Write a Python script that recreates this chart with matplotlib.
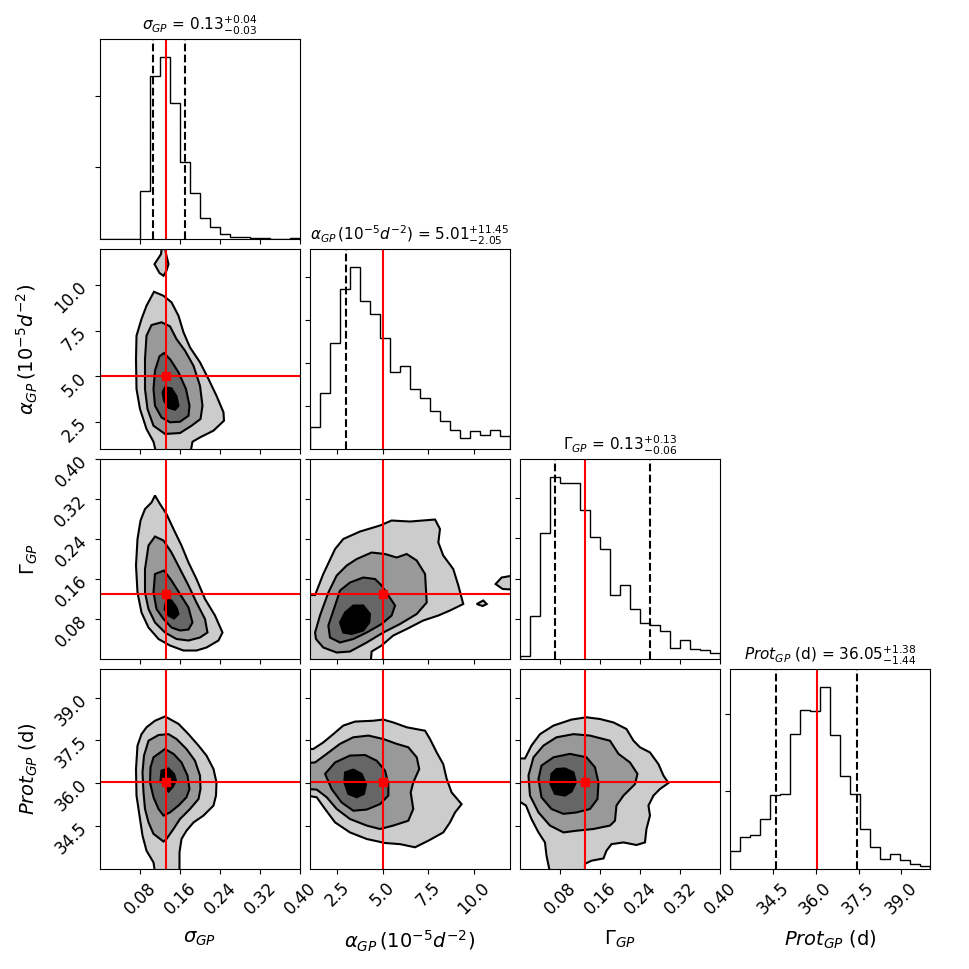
import numpy as np
import matplotlib
matplotlib.use("Agg")
import matplotlib.pyplot as plt
from matplotlib.ticker import MaxNLocator

# parameter names, axis ranges
labels = [r"$\sigma_{GP}$", r"$\alpha_{GP}\,(10^{-5}d^{-2})$", r"$\Gamma_{GP}$", r"$Prot_{GP}$ (d)"]
ranges = [(0.0, 0.40), (1.0, 12.0), (0.0, 0.40), (33.0, 40.0)]
nbins = 20

# 1D histogram counts (20 bins over each range)
sigma_counts = [0, 0, 0, 0, 1330, 4560, 5080, 3810, 2150, 1275, 577, 326, 149, 56, 56, 28, 28, 0, 0, 28]
alpha_counts = [521, 1300, 2467, 3735, 4233, 3455, 3144, 2591, 1798, 1938, 1393, 1183, 887, 646, 444, 249, 420, 327, 436, 296]
gamma_counts = [83, 1070, 3125, 4520, 4370, 4370, 3705, 3042, 2727, 1592, 1840, 1235, 904, 846, 688, 265, 464, 240, 224, 158]
prot_counts = [474, 828, 871, 1284, 1905, 1931, 3491, 4103, 4086, 4689, 3457, 2396, 1931, 1026, 560, 259, 388, 224, 129, 69]
hist_counts = [sigma_counts, alpha_counts, gamma_counts, prot_counts]

# quantiles (16, 50, 84 %) -- the medians are also used as the "truth" lines
q16 = [0.106, 2.96, 0.07, 34.61]
q50 = [0.133, 5.01, 0.13, 36.05]
q84 = [0.171, 16.46, 0.26, 37.43]

# 2D contour outlines (x, y), from outermost level to innermost
alpha_vs_sigma = [
    [[(.108, 9.65), (.127, 9.43), (.143, 9.07), (.157, 8.33), (.167, 7.42), (.180, 6.59), (.200, 5.77),
      (.217, 4.85), (.233, 3.93), (.247, 3.02), (.248, 2.56), (.227, 2.01), (.200, 1.64), (.185, 1.40),
      (.181, 0.82), (.112, 0.82), (.107, 1.40), (.093, 2.10), (.080, 3.20), (.073, 4.30), (.072, 5.95),
      (.073, 7.23), (.083, 8.15), (.093, 8.88)],
     [(.109, 11.17), (.122, 11.72), (.124, 12.18), (.129, 12.18), (.133, 11.63), (.137, 11.17),
      (.133, 10.81), (.127, 10.53), (.119, 10.68)]],
    [[(.093, 7.23), (.103, 7.82), (.123, 7.97), (.140, 7.75), (.153, 7.05), (.170, 6.41), (.187, 5.58),
      (.200, 4.48), (.205, 3.38), (.201, 2.65), (.183, 2.28), (.160, 1.88), (.130, 1.83), (.107, 2.28),
      (.095, 3.20), (.090, 4.30), (.090, 5.95)]],
    [[(.119, 6.10), (.128, 6.28), (.141, 5.91), (.157, 5.22), (.172, 4.30), (.179, 3.38), (.177, 2.83),
      (.160, 2.50), (.140, 2.47), (.123, 2.74), (.110, 3.38), (.107, 4.30), (.110, 5.31)]],
    [[(.130, 4.39), (.143, 4.34), (.153, 3.90), (.157, 3.38), (.150, 3.16), (.137, 3.27), (.128, 3.66),
      (.125, 4.12)]],
]

gamma_vs_sigma = [
    [[(.110, .327), (.120, .310), (.133, .290), (.147, .260), (.163, .227), (.177, .193), (.193, .160),
      (.210, .120), (.230, .087), (.245, .053), (.237, .037), (.213, .023), (.193, .017), (.167, .017),
      (.140, .027), (.117, .040), (.097, .063), (.083, .093), (.075, .133), (.072, .187), (.075, .240),
      (.081, .277), (.090, .300), (.103, .313)]],
    [[(.110, .245), (.127, .237), (.143, .213), (.160, .180), (.177, .147), (.193, .113), (.210, .080),
      (.215, .053), (.200, .043), (.177, .037), (.153, .040), (.130, .053), (.110, .073), (.097, .100),
      (.090, .133), (.090, .180), (.097, .227)]],
    [[(.110, .170), (.128, .177), (.143, .157), (.160, .130), (.177, .103), (.185, .073), (.177, .059),
      (.160, .057), (.143, .063), (.127, .080), (.113, .100), (.107, .133)]],
    [[(.133, .120), (.143, .117), (.153, .103), (.157, .090), (.148, .081), (.137, .087), (.129, .100)]],
]

gamma_vs_alpha = [
    [[(0.82, .128), (1.28, .128), (1.73, .170), (2.38, .220), (2.83, .240), (3.75, .255), (4.85, .267),
      (5.49, .277), (6.50, .275), (7.88, .279), (8.15, .260), (8.06, .233), (8.33, .207), (8.88, .180),
      (9.16, .147), (9.43, .110), (8.70, .097), (8.06, .087), (7.23, .077), (6.32, .060), (5.58, .047),
      (4.94, .027), (4.39, .015), (4.34, -.007), (0.82, -.007)],
     [(11.21, .150), (11.54, .163), (12.18, .167), (12.18, .139), (11.60, .140)],
     [(10.17, .110), (10.53, .117), (10.72, .110), (10.50, .106)]],
    [[(1.28, .053), (1.55, .087), (2.01, .133), (2.47, .167), (3.02, .187), (3.57, .200), (4.39, .213),
      (5.13, .210), (5.77, .203), (6.32, .210), (6.87, .197), (7.33, .170), (7.42, .113), (6.87, .090),
      (5.95, .070), (5.03, .053), (4.12, .033), (3.20, .015), (2.47, .013), (1.73, .023), (1.33, .040)]],
    [[(2.01, .067), (2.38, .107), (2.65, .137), (3.20, .153), (3.93, .163), (4.58, .160), (4.94, .147),
      (5.31, .127), (5.68, .107), (5.49, .087), (4.94, .070), (4.12, .053), (3.38, .040), (2.65, .033),
      (2.10, .043)]],
    [[(2.65, .073), (2.93, .093), (3.38, .107), (3.93, .107), (4.30, .090), (4.26, .073), (3.93, .057),
      (3.29, .050), (2.83, .053)]],
]

prot_vs_sigma = [
    [[(.110, 38.19), (.130, 38.34), (.157, 38.08), (.177, 37.72), (.197, 37.32), (.213, 36.97),
      (.227, 36.50), (.233, 36.03), (.232, 35.57), (.227, 35.22), (.207, 34.87), (.187, 34.63),
      (.173, 34.34), (.163, 34.05), (.159, 33.58), (.159, 32.88), (.110, 32.88), (.107, 33.23),
      (.093, 33.64), (.085, 34.17), (.079, 34.87), (.073, 35.57), (.072, 36.50), (.075, 37.32),
      (.083, 37.72), (.093, 37.96)]],
    [[(.097, 37.49), (.117, 37.69), (.137, 37.72), (.153, 37.55), (.173, 37.20), (.190, 36.79),
      (.200, 36.27), (.201, 35.80), (.197, 35.45), (.180, 35.10), (.160, 34.75), (.147, 34.40),
      (.133, 34.05), (.127, 33.96), (.107, 34.23), (.097, 34.63), (.090, 35.10), (.087, 35.68),
      (.085, 36.38), (.088, 36.97)]],
    [[(.107, 36.91), (.130, 37.20), (.147, 37.03), (.163, 36.73), (.175, 36.27), (.179, 35.80),
      (.173, 35.51), (.157, 35.22), (.140, 34.98), (.127, 34.87), (.117, 35.10), (.107, 35.51),
      (.100, 36.03), (.101, 36.56)]],
    [[(.123, 36.44), (.137, 36.52), (.148, 36.33), (.152, 36.09), (.145, 35.86), (.137, 35.71),
      (.130, 35.92), (.121, 36.09)]],
]

prot_vs_alpha = [
    [[(0.82, 37.20), (1.18, 37.20), (1.73, 37.43), (2.28, 37.72), (2.83, 38.02), (3.48, 38.16),
      (4.48, 38.19), (5.03, 38.23), (5.58, 38.13), (6.32, 37.96), (7.33, 37.84), (7.60, 37.55),
      (7.97, 37.08), (8.33, 36.67), (8.52, 36.15), (8.79, 35.68), (9.34, 35.27), (8.98, 34.98),
      (8.70, 34.63), (8.33, 34.28), (7.51, 33.99), (6.78, 33.76), (5.95, 33.87), (5.13, 33.91),
      (4.12, 34.05), (3.20, 34.28), (2.38, 34.63), (1.83, 35.10), (1.37, 35.51), (0.82, 35.57)]],
    [[(0.82, 36.71), (1.28, 36.73), (1.92, 37.03), (2.65, 37.38), (3.38, 37.61), (4.21, 37.67),
      (5.03, 37.55), (5.77, 37.38), (6.41, 37.26), (6.87, 36.91), (7.01, 36.50), (6.68, 36.03),
      (6.54, 35.68), (6.68, 35.10), (6.41, 34.69), (5.58, 34.52), (4.85, 34.40), (4.12, 34.52),
      (3.20, 34.75), (2.47, 35.10), (1.92, 35.51), (1.37, 35.78), (0.82, 35.80)]],
    [[(1.83, 36.33), (2.38, 36.73), (3.20, 36.97), (4.03, 36.99), (4.67, 36.79), (5.13, 36.44),
      (5.31, 35.97), (5.31, 35.57), (4.85, 35.27), (4.12, 35.08), (3.38, 35.04), (2.74, 35.33),
      (2.19, 35.80)]],
    [[(2.93, 36.38), (3.38, 36.48), (3.84, 36.33), (4.08, 35.97), (3.97, 35.63), (3.57, 35.51),
      (3.11, 35.63), (2.89, 36.03)]],
]

prot_vs_gamma = [
    [[(-.007, 36.87), (.010, 36.87), (.023, 37.32), (.040, 37.72), (.067, 38.02), (.103, 38.23),
      (.133, 38.31), (.160, 38.25), (.187, 38.13), (.213, 37.90), (.227, 37.49), (.240, 37.26),
      (.260, 37.08), (.277, 36.67), (.287, 36.27), (.297, 36.01), (.280, 35.80), (.267, 35.57),
      (.257, 35.22), (.260, 34.87), (.253, 34.40), (.250, 33.93), (.233, 33.84), (.207, 33.93),
      (.183, 33.87), (.173, 33.64), (.167, 33.37), (.143, 33.29), (.130, 33.18), (.130, 32.88),
      (.060, 32.88), (.053, 33.47), (.050, 33.93), (.037, 34.28), (.023, 34.75), (.012, 35.22),
      (-.007, 35.43)]],
    [[(.017, 36.27), (.027, 36.91), (.047, 37.32), (.073, 37.61), (.107, 37.72), (.140, 37.67),
      (.180, 37.49), (.197, 37.03), (.220, 36.73), (.235, 36.33), (.230, 35.97), (.207, 35.57),
      (.193, 35.22), (.190, 34.69), (.180, 34.52), (.147, 34.40), (.113, 34.34), (.087, 34.28),
      (.060, 34.52), (.037, 34.98), (.020, 35.57)]],
    [[(.037, 36.15), (.043, 36.62), (.067, 36.91), (.100, 37.03), (.133, 36.91), (.150, 36.56),
      (.157, 36.03), (.155, 35.45), (.140, 35.10), (.113, 34.98), (.087, 34.93), (.063, 35.10),
      (.043, 35.51)]],
    [[(.063, 36.33), (.073, 36.50), (.090, 36.52), (.107, 36.38), (.112, 36.03), (.103, 35.71),
      (.090, 35.57), (.070, 35.63), (.061, 35.97)]],
]

contours = {
    (1, 0): alpha_vs_sigma,
    (2, 0): gamma_vs_sigma,
    (2, 1): gamma_vs_alpha,
    (3, 0): prot_vs_sigma,
    (3, 1): prot_vs_alpha,
    (3, 2): prot_vs_gamma,
}
level_colors = ["#cccccc", "#999999", "#666666", "#000000"]

fig, axes = plt.subplots(4, 4, figsize=(9.69, 9.69), dpi=100)
fig.subplots_adjust(left=0.1032, right=0.9597, bottom=0.1032, top=0.9597, wspace=0.05, hspace=0.05)

for i in range(4):
    for j in range(4):
        ax = axes[i, j]
        if j > i:
            ax.set_frame_on(False)
            ax.set_xticks([])
            ax.set_yticks([])
            continue

        if i == j:
            # diagonal: 1D histogram with quantiles
            lo, hi = ranges[i]
            edges = np.linspace(lo, hi, nbins + 1)
            ax.stairs(hist_counts[i], edges, color="k", lw=1.0, baseline=0)
            for q in (q16[i], q84[i]):
                if lo < q < hi:
                    ax.axvline(q, ls="dashed", color="k", lw=1.5)
            ax.axvline(q50[i], color="red", lw=1.5)
            ax.set_xlim(lo, hi)
            ax.set_ylim(0, 1.1 * max(hist_counts[i]))
            ax.yaxis.set_major_locator(MaxNLocator(5, steps=[1, 2, 2.5, 5, 10], prune="lower"))
            ax.tick_params(axis="y", labelleft=False)
            up = q84[i] - q50[i]
            dn = q50[i] - q16[i]
            title = labels[i] + " = $%.2f_{-%.2f}^{+%.2f}$" % (q50[i], dn, up)
            ax.set_title(title, fontsize=11)
        else:
            # off-diagonal: filled contour levels
            for k, level in enumerate(contours[(i, j)]):
                for poly in level:
                    xs, ys = zip(*poly)
                    ax.fill(xs, ys, facecolor=level_colors[k], edgecolor="k", lw=1.5)
            ax.axvline(q50[j], color="red", lw=1.5)
            ax.axhline(q50[i], color="red", lw=1.5)
            ax.plot(q50[j], q50[i], "s", color="red")
            ax.set_xlim(*ranges[j])
            ax.set_ylim(*ranges[i])
            ax.yaxis.set_major_locator(MaxNLocator(5, prune="lower"))
            if j == 0:
                ax.tick_params(axis="y", labelsize=12, labelrotation=45)
                ax.set_ylabel(labels[i], fontsize=14)
                ax.yaxis.set_label_coords(-0.3, 0.5)
            else:
                ax.tick_params(axis="y", labelleft=False)

        ax.xaxis.set_major_locator(MaxNLocator(5, prune="lower"))
        if i == 3:
            ax.tick_params(axis="x", labelsize=12, labelrotation=45)
            ax.set_xlabel(labels[j], fontsize=14)
            ax.xaxis.set_label_coords(0.5, -0.3)
        else:
            ax.tick_params(axis="x", labelbottom=False)

fig.savefig("out.png", dpi=100)
